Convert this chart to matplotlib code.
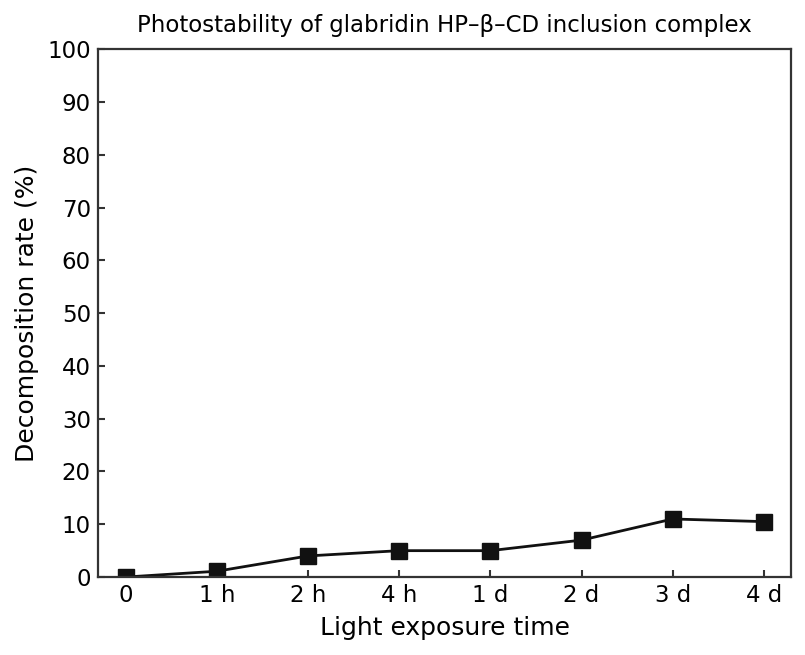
import matplotlib
matplotlib.use("Agg")
from matplotlib import pyplot as plt

# light exposure time points and decomposition rate (%)
time_labels = ["0", "1 h", "2 h", "4 h", "1 d", "2 d", "3 d", "4 d"]
decomposition = [0, 1.1, 4.0, 5.0, 5.0, 7.0, 11.0, 10.5]

fig, ax = plt.subplots(figsize=(8.05, 6.55), dpi=100)

x = list(range(len(time_labels)))
ax.plot(x, decomposition, color="#111111", linewidth=2.0,
        marker="s", markersize=11.5, mfc="#111111", mec="#111111")

ax.set_xticks(x)
ax.set_xticklabels(time_labels)
ax.set_xlim(-0.3, 7.3)
ax.set_ylim(0, 100)
ax.set_yticks(range(0, 101, 10))

for s in ax.spines.values():
    s.set_color("#333333")
    s.set_linewidth(1.6)
ax.tick_params(direction="in", length=5.3, width=1.5, color="#333333",
               labelsize=16.5, pad=5.3)

ax.set_xlabel("Light exposure time", fontsize=18, labelpad=6)
ax.set_ylabel("Decomposition rate (%)", fontsize=18, labelpad=6)
ax.set_title("Photostability of glabridin HP\u2013\u03b2\u2013CD inclusion complex",
             fontsize=16.5, pad=12)

plt.subplots_adjust(left=0.122, right=0.983, top=0.925, bottom=0.119)
plt.savefig("out.png", dpi=100)
